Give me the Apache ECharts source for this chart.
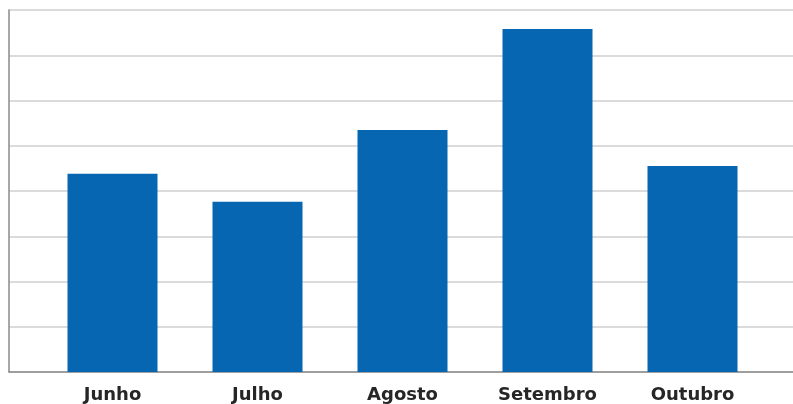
<!DOCTYPE html>
<html>
<head>
<meta charset="utf-8">
<script src="https://cdn.jsdelivr.net/npm/echarts@6/dist/echarts.min.js"></script>
<style>
  html, body { margin: 0; padding: 0; background: #fff; }
  #chart { width: 793px; height: 404px; }
</style>
</head>
<body>
<div id="chart"></div>
<script>
// dados
const categories = ['Junho', 'Julho', 'Agosto', 'Setembro', 'Outubro']
const values = [4.38, 3.76, 5.35, 7.58, 4.55]
const yMax = 8

const chart = echarts.init(document.getElementById('chart'))
const option = {
  animation: false,
  grid: [
    { left: 9, right: 0, top: 10, bottom: 32 },   // fundo: linhas de grade
    { left: 40, right: 28, top: 10, bottom: 32 }  // barras
  ],
  xAxis: [
    {
      gridIndex: 0,
      type: 'value', min: 0, max: 1,
      axisLine: { show: true, lineStyle: { color: '#8a8a8a', width: 1.5 } },
      axisTick: { show: false },
      axisLabel: { show: false },
      splitLine: { show: false }
    },
    {
      gridIndex: 1,
      type: 'category',
      data: categories,
      axisLine: { show: false },
      axisTick: { show: false },
      axisLabel: {
        margin: 14,
        fontSize: 18,
        fontWeight: 'bold',
        fontFamily: 'DejaVu Sans',
        color: '#262626'
      }
    }
  ],
  yAxis: [
    {
      gridIndex: 0,
      type: 'value', min: 0, max: yMax, interval: 1,
      axisLine: { show: true, lineStyle: { color: '#8a8a8a', width: 1.5 } },
      axisTick: { show: false },
      axisLabel: { show: false },
      splitLine: { show: true, lineStyle: { color: '#cfcfcf', width: 1.5 } }
    },
    {
      gridIndex: 1,
      type: 'value', min: 0, max: yMax,
      show: false
    }
  ],
  series: [
    {
      type: 'bar',
      xAxisIndex: 1,
      yAxisIndex: 1,
      data: values,
      barWidth: 90,
      itemStyle: { color: '#0666b2' }
    }
  ]
}
chart.setOption(option)
</script>
</body>
</html>
